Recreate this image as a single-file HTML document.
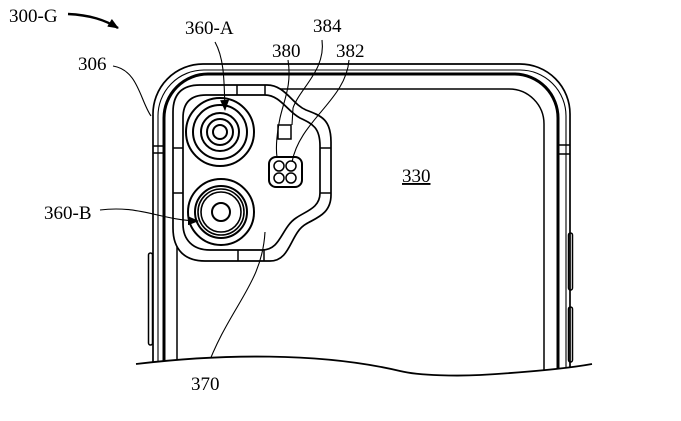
<!DOCTYPE html>
<html><head><meta charset="utf-8"><style>
html,body{margin:0;padding:0;background:#fff;}
svg{display:block;}
text{font-family:"Liberation Serif",serif;font-size:19px;fill:#000;}
</style></head><body>
<svg width="681" height="421" viewBox="0 0 681 421" xmlns="http://www.w3.org/2000/svg">
<defs>
<marker id="ah" markerWidth="11" markerHeight="9" refX="10" refY="4.5" orient="auto" markerUnits="userSpaceOnUse">
<path d="M0,0 L11,4.5 L0,9 Z" fill="#000"/></marker>
</defs>
<g fill="none" stroke="#000" stroke-width="1.5">
<path d="M153,390 V115 A50,50 0 0 1 203,64 H520 A50,50 0 0 1 570,114 V390" stroke-width="1.7"/>
<path d="M158,390 V117 A46,46 0 0 1 204,70 H520 A46,46 0 0 1 566,116 V390" stroke-width="1.1"/>
<path d="M164,390 V118 A44,44 0 0 1 208,74 H515 A44,44 0 0 1 558,118 V390" stroke-width="3"/>
<path d="M177,390 V124 A35,35 0 0 1 212,89 H509 A35,35 0 0 1 544,124 V390"/>
<path d="M153,146 H164 M153,153 H164 M558,145 H570 M558,154 H570"/>
<rect x="148.5" y="253" width="4" height="92" rx="2"/>
<rect x="568.5" y="233" width="4" height="57" rx="2"/>
<rect x="568.5" y="307" width="4" height="55" rx="2"/>
<path d="M173,112 Q173,85 200,85 H267 C285,85 292,104 306,110 C322,116 331,120 331,142 V195 C331,214 316,218 306,224 C290,233 291,261 270,261 H205 C185,261 173,250 173,228 Z" fill="#fff" stroke-width="1.7"/>
<path d="M183,118 Q183,95 206,95 H265 C280,95 288,112 300,118 C313,124 320,128 320,146 V193 C320,208 306,211 296,218 C281,228 281,250 262,250 H210 C193,250 183,240 183,224 Z" stroke-width="1.7"/>
<path d="M237,85 V95 M265,85 V95 M238,250 V261 M264,250 V261 M173,148 H183 M173,193 H183 M320,148 H331 M320,193 H331"/>
<circle cx="220" cy="132" r="34" stroke-width="2"/>
<circle cx="220" cy="132" r="27" stroke-width="2"/>
<circle cx="220" cy="132" r="19" stroke-width="2"/>
<circle cx="220" cy="132" r="13" stroke-width="2"/>
<circle cx="220" cy="132" r="7" stroke-width="2"/>
<circle cx="221" cy="212" r="33" stroke-width="2"/>
<circle cx="221" cy="212" r="26" stroke-width="2"/>
<circle cx="221" cy="212" r="23" stroke-width="1.6"/>
<circle cx="221" cy="212" r="20" stroke-width="1.6"/>
<circle cx="221" cy="212" r="9" stroke-width="2"/>
<rect x="278" y="125" width="13" height="14"/>
<rect x="269" y="157" width="33" height="30" rx="7" fill="#fff" stroke-width="2"/>
<circle cx="279" cy="166" r="5"/><circle cx="291" cy="166" r="5"/>
<circle cx="279" cy="178" r="5"/><circle cx="291" cy="178" r="5"/>
<path d="M288,60 C292,85 284,100 280,118 C276,138 276,150 277,157" stroke-width="1.1"/>
<path d="M322,40 C326,70 300,88 293,108 L292,125" stroke-width="1.1"/>
<path d="M349,60 C346,100 300,120 292,162" stroke-width="1.1"/>
<path d="M113,66 C138,70 140,100 151,116" stroke-width="1.1"/>
<path d="M215,42 C225,60 224,85 225,110" stroke-width="1.1" marker-end="url(#ah)"/>
<path d="M100,210 C140,205 160,220 198,221" stroke-width="1.1" marker-end="url(#ah)"/>
<path d="M265,232 C262,285 230,305 206,370" stroke-width="1.1"/>
<path d="M68,14 C90,15 105,20 118,28" stroke-width="2.4" marker-end="url(#ah)"/>
</g>
<path d="M136,364 C220,354 320,352 400,371 C420,376 460,376 480,375 C530,372 570,368 592,364 V421 H136 Z" fill="#fff"/>
<path d="M136,364 C220,354 320,352 400,371 C420,376 460,376 480,375 C530,372 570,368 592,364" fill="none" stroke="#000" stroke-width="1.8"/>
<text x="9" y="22">300-G</text>
<text x="185" y="34">360-A</text>
<text x="313" y="32">384</text>
<text x="272" y="57">380</text>
<text x="336" y="57">382</text>
<text x="78" y="70">306</text>
<text x="402" y="182" text-decoration="underline">330</text>
<text x="44" y="219">360-B</text>
<text x="191" y="390">370</text>
</svg>
</body></html>
